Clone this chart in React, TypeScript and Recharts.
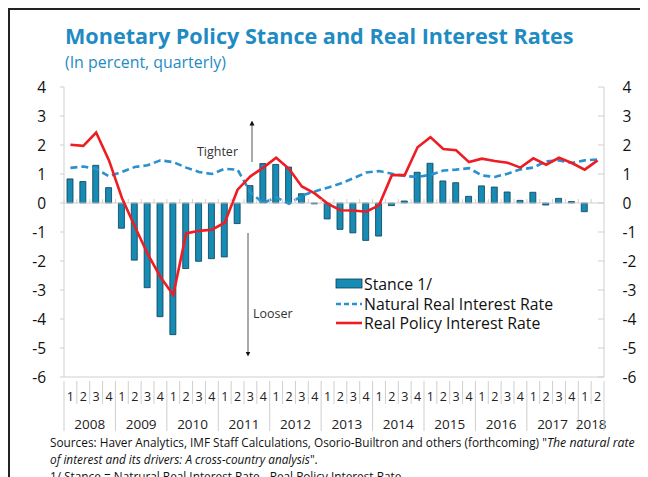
import React from 'react';
import { ComposedChart, Bar, Line, XAxis, YAxis, ReferenceLine } from 'recharts';

const years = ['2008', '2009', '2010', '2011', '2012', '2013', '2014', '2015', '2016', '2017', '2018'];
const quartersPerYear = [4, 4, 4, 4, 4, 4, 4, 4, 4, 4, 2];

const stance = [
  0.83, 0.74, 1.3, 0.53,
  -0.87, -1.97, -2.92, -3.92,
  -4.54, -2.26, -2.01, -1.92,
  -1.86, -0.71, 0.6, 1.36,
  1.33, 1.24, 0.32, -0.03,
  -0.55, -0.91, -1.03, -1.29,
  -1.14, -0.09, 0.07, 1.06,
  1.37, 0.76, 0.7, 0.23,
  0.59, 0.55, 0.38, 0.09,
  0.37, -0.07, 0.16, 0.05,
  -0.3, 0,
];

const naturalRate = [
  1.21, 1.26, 1.18, 0.92,
  1.07, 1.24, 1.3, 1.47,
  1.41, 1.22, 1.07, 1.0,
  1.18, 1.15, 0.36, 0.0,
  0.2, -0.03, 0.25, 0.4,
  0.53, 0.67, 0.85, 1.05,
  1.1, 1.01, 0.93, 0.9,
  0.97, 1.12, 1.15, 1.2,
  0.95, 0.9, 1.01, 1.16,
  1.22, 1.44, 1.47, 1.38,
  1.47, 1.5,
];

const realPolicyRate = [
  2.01, 1.97, 2.43, 1.47,
  0.18, -0.8, -1.75, -2.55,
  -3.17, -1.05, -0.96, -0.92,
  -0.68, 0.46, 0.92, 1.22,
  1.56, 1.18, 0.57, 0.33,
  -0.02, -0.25, -0.26, -0.3,
  -0.08, 0.96, 0.96, 1.92,
  2.27, 1.86, 1.82, 1.41,
  1.53, 1.45, 1.39, 1.22,
  1.54, 1.32, 1.56, 1.38,
  1.15, 1.47,
];

const yTicks = [-6, -5, -4, -3, -2, -1, 0, 1, 2, 3, 4];

const categories: { cat: string; year: string; q: string; yearIdx: number }[] = [];
years.forEach((yr, yi) => {
  for (let q = 1; q <= quartersPerYear[yi]; q++) {
    categories.push({ cat: `${yr}Q${q}`, year: yr, q: String(q), yearIdx: yi });
  }
});

const data = categories.map((c, i) => ({
  cat: c.cat,
  stance: stance[i],
  natural: naturalRate[i],
  real: realPolicyRate[i],
}));

const W = 640;
const H = 469;
const MARGIN = { top: 78, right: 0, bottom: 41, left: 0 };
const PLOT_W = 540;
const PLOT_H = 290;
const Y_MIN = -6;
const Y_MAX = 4;
const FONT = '"Open Sans", "Noto Sans", sans-serif';
const BLUE_TITLE = '#1f8bc3';
const GRID = '#cfcfcf';

function QuarterTick(props: any) {
  const { x, y, payload } = props;
  const idx = categories.findIndex((c) => c.cat === payload.value);
  if (idx < 0) return null;
  const c = categories[idx];
  const bw = PLOT_W / categories.length;
  const left = x - bw / 2;
  const right = x + bw / 2;
  const zeroY = y - (PLOT_H * (0 - Y_MIN)) / (Y_MAX - Y_MIN);
  const isQ1 = c.q === '1';
  const isLast = idx === categories.length - 1;
  const k = quartersPerYear[c.yearIdx];
  return (
    <g>
      <line x1={left} x2={left} y1={y + 4} y2={isQ1 ? y + 54 : y + 27} stroke={GRID} strokeWidth={1} />
      {isLast && <line x1={right} x2={right} y1={y + 4} y2={y + 54} stroke={GRID} strokeWidth={1} />}
      <line x1={left} x2={left} y1={zeroY - 4} y2={zeroY} stroke={GRID} strokeWidth={1} />
      <text x={x} y={y + 23.5} textAnchor="middle" fontSize={12.5} fill="#222" fontFamily={FONT}>
        {c.q}
      </text>
      {isQ1 && (
        <text x={left + (k * bw) / 2} y={y + 52} textAnchor="middle" fontSize={13.5} fill="#222" fontFamily={FONT}>
          {c.year}
        </text>
      )}
    </g>
  );
}

function RightTick(props: any) {
  const { x, y, payload } = props;
  return (
    <g>
      <line x1={x - 6} x2={x} y1={y} y2={y} stroke={GRID} strokeWidth={1} />
      <text x={x + 18.5} y={y} dy="0.36em" textAnchor="start" fontSize={15.5} fill="#111" fontFamily={FONT}>
        {payload.value}
      </text>
    </g>
  );
}

export default function App() {
  return (
    <div
      style={{
        position: 'relative',
        width: W,
        height: H,
        overflow: 'hidden',
        background: '#fff',
        borderLeft: '2px solid #222',
        borderTop: '2px solid #222',
        boxSizing: 'border-box',
        fontFamily: FONT,
      }}
    >
      <div style={{ position: 'absolute', left: -2, top: -1 }}>
        <ComposedChart width={W} height={H} data={data} margin={MARGIN}>
          <XAxis
            dataKey="cat"
            xAxisId={0}
            interval={0}
            height={60}
            tickSize={0}
            tickMargin={0}
            tickLine={false}
            axisLine={{ stroke: GRID }}
            tick={<QuarterTick />}
          />
          <XAxis
            dataKey="cat"
            xAxisId="top"
            orientation="top"
            height={0}
            tick={false}
            tickLine={false}
            axisLine={{ stroke: GRID }}
          />
          <YAxis
            yAxisId="L"
            orientation="left"
            width={56}
            domain={[Y_MIN, Y_MAX]}
            ticks={yTicks}
            interval={0}
            tickSize={4}
            tickMargin={14}
            tickLine={{ stroke: GRID }}
            axisLine={{ stroke: GRID }}
            tick={{ fontSize: 15.5, fill: '#111', fontFamily: FONT }}
          />
          <YAxis
            yAxisId="R"
            orientation="right"
            width={44}
            domain={[Y_MIN, Y_MAX]}
            ticks={yTicks}
            interval={0}
            tickSize={0}
            tickMargin={0}
            tickLine={false}
            axisLine={{ stroke: GRID }}
            tick={<RightTick />}
          />
          <ReferenceLine yAxisId="L" y={0} stroke={GRID} strokeWidth={1} />
          <Line
            xAxisId="top"
            yAxisId="R"
            dataKey="real"
            stroke="none"
            strokeWidth={0}
            dot={false}
            activeDot={false}
            legendType="none"
            isAnimationActive={false}
          />
          <Bar
            yAxisId="L"
            dataKey="stance"
            fill="#168bb3"
            stroke="#0b3e57"
            strokeWidth={0.8}
            barSize={6}
            isAnimationActive={false}
          />
          <Line
            yAxisId="L"
            dataKey="natural"
            stroke="#2a90cf"
            strokeWidth={2.6}
            strokeDasharray="7 4"
            dot={false}
            activeDot={false}
            isAnimationActive={false}
          />
          <Line
            yAxisId="L"
            dataKey="real"
            stroke="#ee1c23"
            strokeWidth={2.6}
            dot={false}
            activeDot={false}
            isAnimationActive={false}
          />
        </ComposedChart>
      </div>
      <svg
        width={W}
        height={H}
        style={{ position: 'absolute', left: -2, top: -1, pointerEvents: 'none' }}
        fontFamily={FONT}
      >
        <defs>
          <marker id="ah" viewBox="0 0 10 10" refX="5" refY="5" markerWidth="5" markerHeight="6" orient="auto-start-reverse">
            <path d="M0,0 L10,5 L0,10 z" fill="#111" />
          </marker>
        </defs>
        <text x={57} y={35} fontSize={21.6} fontWeight={700} fill={BLUE_TITLE}>
          Monetary Policy Stance and Real Interest Rates
        </text>
        <text x={57} y={58.5} fontSize={15.9} fill={BLUE_TITLE}>
          (In percent, quarterly)
        </text>

        <line x1={244} x2={244} y1={153} y2={114} stroke="#555" strokeWidth={1} markerEnd="url(#ah)" />
        <text x={230} y={147} fontSize={12.5} fill="#333" textAnchor="end">
          Tighter
        </text>
        <line x1={240} x2={240} y1={224} y2={345} stroke="#555" strokeWidth={1} markerEnd="url(#ah)" />
        <text x={245} y={309} fontSize={12.5} fill="#333">
          Looser
        </text>

        <rect x={328} y={270} width={26} height={9} fill="#168bb3" stroke="#0b3e57" strokeWidth={0.8} />
        <text x={356} y={280.5} fontSize={15.8} fill="#111">
          Stance 1/
        </text>
        <line x1={328} x2={354} y1={295} y2={295} stroke="#2a90cf" strokeWidth={2.6} strokeDasharray="5 3" />
        <text x={356} y={300.5} fontSize={15.8} fill="#111">
          Natural Real Interest Rate
        </text>
        <line x1={328} x2={354} y1={314} y2={314} stroke="#ee1c23" strokeWidth={2.6} />
        <text x={356} y={319.5} fontSize={15.8} fill="#111">
          Real Policy Interest Rate
        </text>

        <text x={42} y={438} fontSize={11.8} fill="#111">
          Sources: Haver Analytics, IMF Staff Calculations, Osorio-Builtron and others (forthcoming) "
          <tspan fontStyle="italic" fontSize={12.3}>The natural rate</tspan>
        </text>
        <text x={42} y={455} fontSize={11.8} fill="#111">
          <tspan fontStyle="italic">of interest and its drivers: A cross-country analysis</tspan>".
        </text>
        <text x={42} y={472} fontSize={11.8} fill="#111">
          1/ Stance = Natrural Real Interest Rate - Real Policy Interest Rate
        </text>
      </svg>
    </div>
  );
}
